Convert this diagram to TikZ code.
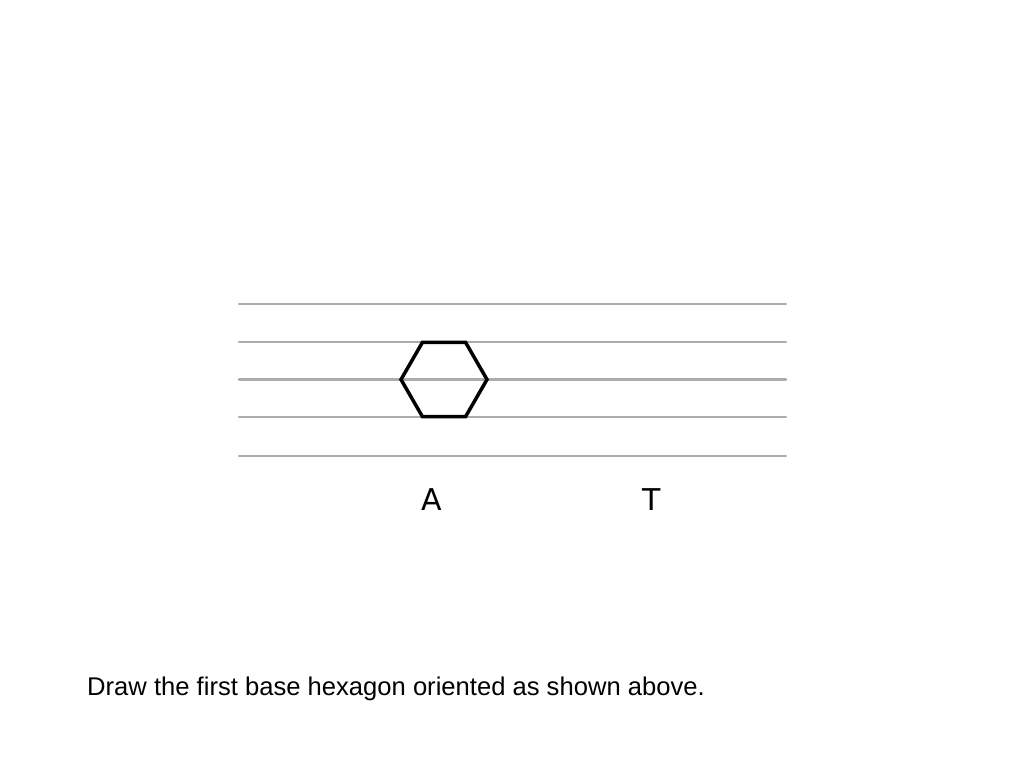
\documentclass[tikz,border=0pt]{standalone}
\usepackage{fontspec}
\setmainfont{Liberation Sans}
\newfontfamily\labelfont{DejaVu Sans}
\begin{document}
\begin{tikzpicture}[x=1pt,y=-1pt,every path/.style={line cap=round}]
\useasboundingbox[fill=white] (0,0) rectangle (1024,768);
\draw[gray!65,line width=2.5pt] (239,304) to (786,304);
\draw[gray!65,line width=2.5pt] (239,342) to (786,342);
\draw[gray!65,line width=2.5pt] (239,379.5) to (786,379.5);
\draw[gray!65,line width=2.5pt] (239,417) to (786,417);
\draw[gray!65,line width=2.5pt] (239,456) to (786,456);
\coordinate (h) at (444,379.5);
\draw[black,line width=3.5pt,line join=miter] ([shift={(0:43)}]h) -- ([shift={(60:43)}]h) -- ([shift={(120:43)}]h) -- ([shift={(180:43)}]h) -- ([shift={(240:43)}]h) -- ([shift={(300:43)}]h) -- cycle;
\node[anchor=base,inner sep=0pt,font=\labelfont\fontsize{30}{34}\selectfont] (a) at (432,510) {A};
\node[anchor=base,inner sep=0pt,font=\labelfont\fontsize{30}{34}\selectfont] (t) at (651.5,510) {T};
\node[anchor=base west,inner sep=0pt,font=\fontsize{25.6}{30}\selectfont] (caption) at (87,695) {Draw the first base hexagon oriented as shown above.};
\end{tikzpicture}
\end{document}
